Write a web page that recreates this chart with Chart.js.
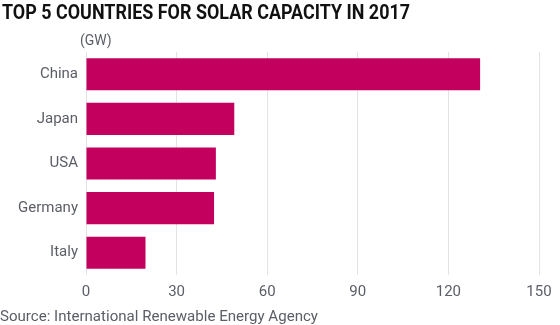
<!DOCTYPE html>
<html>
<head>
<meta charset="utf-8">
<script src="https://cdn.jsdelivr.net/npm/chart.js@4"></script>
<style>
  html, body { margin: 0; padding: 0; background: #fff; }
  #wrap { width: 560px; height: 325px; position: relative; }
</style>
</head>
<body>
<div id="wrap"><canvas id="c"></canvas></div>
<script>
const countries = ['China', 'Japan', 'USA', 'Germany', 'Italy'];
const capacityGW = [130.5, 49.1, 43.0, 42.4, 19.7];
const xTicks = [0, 30, 60, 90, 120, 150];
const titleText = 'TOP 5 COUNTRIES FOR SOLAR CAPACITY IN 2017';
const unitText = '(GW)';
const sourceText = 'Source: International Renewable Energy Agency';

const GREY = '#5b5e66';

// title, unit and source text drawn on the canvas
const textPlugin = {
  id: 'texts',
  afterDraw(chart) {
    const ctx = chart.ctx;
    ctx.save();
    ctx.fillStyle = '#111';
    ctx.font = 'bold 21px Roboto';
    ctx.textBaseline = 'alphabetic';
    ctx.textAlign = 'left';
    const w = ctx.measureText(titleText).width;
    ctx.translate(2, 18.5);
    ctx.scale(408 / w, 1);
    ctx.fillText(titleText, 0, 0);
    ctx.restore();

    ctx.save();
    ctx.fillStyle = GREY;
    ctx.font = '14px Roboto';
    ctx.textBaseline = 'middle';
    ctx.fillText(unitText, 80, 41);
    ctx.font = '15px Roboto';
    const sw = ctx.measureText(sourceText).width;
    ctx.translate(0, 317);
    ctx.scale(318 / sw, 1);
    ctx.fillText(sourceText, 0, 0);
    ctx.restore();
  }
};

new Chart(document.getElementById('c'), {
  type: 'bar',
  data: {
    labels: countries,
    datasets: [{ data: capacityGW, backgroundColor: '#c4005f', barPercentage: 0.72, categoryPercentage: 1 }]
  },
  options: {
    indexAxis: 'y',
    responsive: true,
    maintainAspectRatio: false,
    animation: false,
    layout: { padding: { top: 52, bottom: 25, left: 0, right: 21 } },
    plugins: { legend: { display: false }, tooltip: { enabled: false } },
    scales: {
      x: {
        min: 0, max: 150,
        afterBuildTicks: (s) => { s.ticks = xTicks.map((v) => ({ value: v })); },
        afterFit: (s) => { s.height = 25; },
        grid: { color: '#e3e3e3', lineWidth: 1, drawTicks: false },
        border: { display: false },
        ticks: { color: GREY, font: { family: 'Roboto', size: 15 }, padding: 8 }
      },
      y: {
        afterFit: (s) => { s.width = 86; },
        grid: { display: false, drawTicks: false },
        border: { display: false },
        ticks: { color: GREY, font: { family: 'Roboto', size: 15 }, padding: 8 }
      }
    }
  },
  plugins: [textPlugin]
});
</script>
</body>
</html>
